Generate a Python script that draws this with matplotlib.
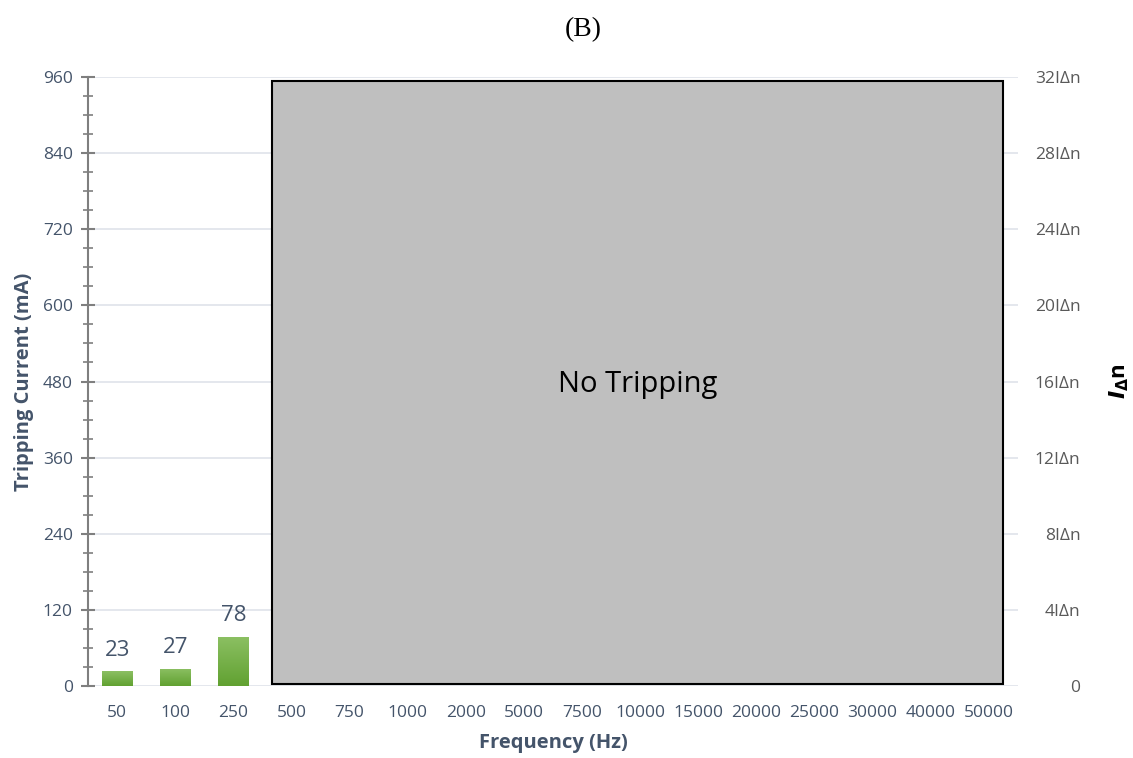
import numpy as np
import matplotlib
matplotlib.use("Agg")
import matplotlib.pyplot as plt
from matplotlib.colors import LinearSegmentedColormap
from matplotlib.ticker import MultipleLocator

plt.rcParams['font.family'] = ['Open Sans', 'DejaVu Sans']
plt.rcParams['mathtext.fontset'] = 'custom'
plt.rcParams['mathtext.it'] = 'DejaVu Sans:italic:bold'
plt.rcParams['mathtext.rm'] = 'DejaVu Sans:bold'

categories = ['50', '100', '250', '500', '750', '1000', '2000', '5000', '7500',
              '10000', '15000', '20000', '25000', '30000', '40000', '50000']
tripping_ma = [23, 27, 78]          # measured tripping currents (first three frequencies)
no_trip_region = (2.66, 15.24, 3, 954)  # x0, x1, y0, y1 in data units
left_ticks = [0, 120, 240, 360, 480, 600, 720, 840, 960]
right_labels = ['0', '4IΔn', '8IΔn', '12IΔn', '16IΔn', '20IΔn', '24IΔn', '28IΔn', '32IΔn']

text_col = '#44546a'
fig = plt.figure(figsize=(11.33, 7.58), dpi=100)
ax = fig.add_axes([0.0777, 0.095, 0.8207, 0.8034])

x = np.arange(len(categories))

# grid
for yv in left_ticks:
    ax.axhline(yv, color='#dfe3ea', lw=1.2, zorder=0)

# gradient bars
cmap = LinearSegmentedColormap.from_list('g', ['#61a131', '#8cc063'])
bars = ax.bar(x[:len(tripping_ma)], tripping_ma, width=0.53, color='#70ad47', zorder=2)
grad = np.linspace(0, 1, 256).reshape(-1, 1)
for b in bars:
    bx, by, bw, bh = b.get_x(), b.get_y(), b.get_width(), b.get_height()
    im = ax.imshow(grad, extent=[bx, bx + bw, by, by + bh], origin='lower',
                   cmap=cmap, aspect='auto', zorder=3)
    im.set_clip_path(b)
    ax.text(bx + bw / 2, bh + 17, f'{int(bh)}', ha='center', va='bottom',
            fontsize=16, color=text_col, zorder=4)
ax.set_xlim(-0.5, len(categories) - 0.5)
ax.set_ylim(0, 960)

# no tripping region
x0, x1, y0, y1 = no_trip_region
ax.add_patch(plt.Rectangle((x0, y0), x1 - x0, y1 - y0, facecolor='#bfbfbf',
                           edgecolor='black', lw=1.5, zorder=3))
ax.text((x0 + x1) / 2, 475, 'No Tripping', ha='center', va='center', fontsize=21,
        color='black', zorder=4)

# axes styling
for s in ['top', 'right', 'bottom']:
    ax.spines[s].set_visible(False)
ax.spines['left'].set_color('#7f7f7f')
ax.spines['left'].set_linewidth(1.5)
ax.set_yticks(left_ticks)
ax.yaxis.set_minor_locator(MultipleLocator(30))
ax.tick_params(axis='y', which='major', direction='inout', length=10, width=1.5,
               color='#7f7f7f', labelsize=12.5, labelcolor=text_col, pad=6)
ax.tick_params(axis='y', which='minor', direction='inout', length=7, width=1.2,
               color='#7f7f7f')
ax.set_xticks(x)
ax.set_xticklabels(categories)
ax.tick_params(axis='x', length=0, labelsize=12.5, labelcolor=text_col, pad=14)

ax.set_ylabel('Tripping Current (mA)', fontsize=14.5, fontweight='bold', color=text_col)
ax.yaxis.set_label_coords(-0.058, 0.5)
ax.set_xlabel('Frequency (Hz)', fontsize=14.5, fontweight='bold', color=text_col,
              labelpad=8)
fig.text(583 / 1133, 1 - 30 / 758, '(B)', fontsize=20, family='Liberation Serif',
         ha='center', va='center')

# right axis
ax2 = ax.twinx()
ax2.set_ylim(0, 960)
ax2.set_yticks(left_ticks)
ax2.set_yticklabels(right_labels)
for s in ax2.spines.values():
    s.set_visible(False)
ax2.tick_params(axis='y', length=0, labelsize=12.5, labelcolor='#595959', pad=45)
plt.setp(ax2.get_yticklabels(), ha='right')
ax2.set_ylabel(r'$I_{\Delta}$n', fontsize=16, fontweight='bold', color='black')
ax2.yaxis.set_label_coords(1.096, 0.5)

fig.savefig('out.png', dpi=100)
